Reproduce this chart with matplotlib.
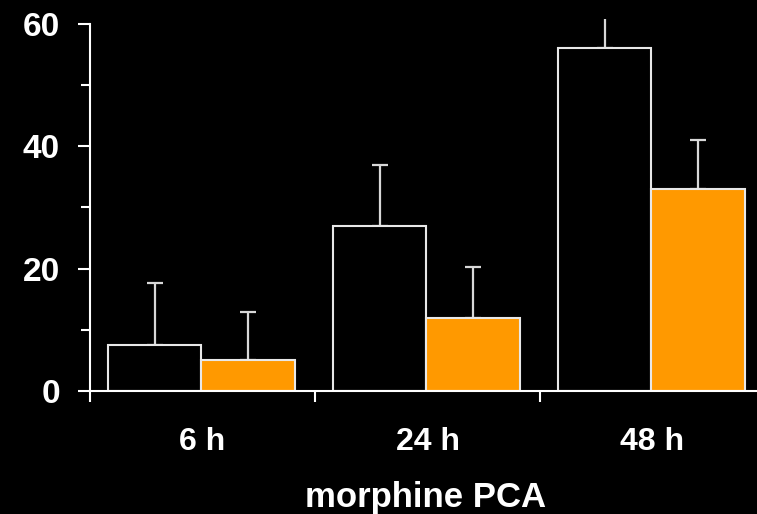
import numpy as np
import matplotlib
matplotlib.use('Agg')
import matplotlib.pyplot as plt

plt.rcParams['font.family'] = ['Liberation Sans', 'DejaVu Sans']
plt.rcParams['font.weight'] = 'bold'

# data
groups = ['6 h', '24 h', '48 h']
black_vals = [7.5, 27.0, 56.0]
black_err = [10.1, 10.0, 9.0]
orange_vals = [5.0, 12.0, 33.0]
orange_err = [7.9, 8.2, 8.0]

ORANGE = '#ff9900'
EDGE = '#e8e8e8'

fig = plt.figure(figsize=(7.57, 5.14), dpi=100, facecolor='black')
ax = fig.add_axes([90 / 757, 1 - 391 / 514, 667 / 757, 372 / 514])
ax.set_facecolor('black')

x = np.arange(len(groups))
width = 0.415

ax.bar(x + 0.2875, black_vals, width, color='black', edgecolor=EDGE,
       linewidth=1.5, zorder=2)
ax.bar(x + 0.7025, orange_vals, width, color=ORANGE, edgecolor=EDGE,
       linewidth=1.5, zorder=2)

err_kw = dict(fmt='none', ecolor='#d8d8d8', elinewidth=1.6, capsize=6,
              capthick=1.6, zorder=1)
ax.errorbar(x + 0.2875, black_vals, yerr=[np.zeros(3), black_err], **err_kw)
ax.errorbar(x + 0.7025, orange_vals, yerr=[np.zeros(3), orange_err], **err_kw)

ax.set_xlim(0, 667 / 225)
ax.set_ylim(0, 60.8)

for s in ['top', 'right']:
    ax.spines[s].set_visible(False)
for s in ['left', 'bottom']:
    ax.spines[s].set_color('white')
    ax.spines[s].set_linewidth(1.5)
ax.spines['left'].set_bounds(0, 60)

# y axis
ax.set_yticks([0, 20, 40, 60])
ax.set_yticks([10, 30, 50], minor=True)
ax.tick_params(axis='y', which='major', colors='white', length=8.6, width=1.5,
               pad=13, labelsize=24)
ax.tick_params(axis='y', which='minor', colors='white', length=6.5, width=1.5)

# x axis: ticks at group boundaries, labels at group centres
ax.set_xticks([0, 1, 2])
ax.set_xticklabels([])
ax.set_xticks(x + 0.5, minor=True)
ax.set_xticklabels(groups, minor=True)
ax.tick_params(axis='x', which='major', colors='white', length=8, width=1.5)
ax.tick_params(axis='x', which='minor', colors='white', length=0, pad=26,
               labelsize=23)

for lab in ax.get_yticklabels() + ax.get_xticklabels(minor=True):
    lab.set_fontweight('bold')

fig.text(426 / 757, 1 - 507 / 514, 'morphine PCA', color='white',
         fontsize=25, fontweight='bold', ha='center', va='baseline')

fig.savefig('out.png', dpi=100, facecolor='black')
